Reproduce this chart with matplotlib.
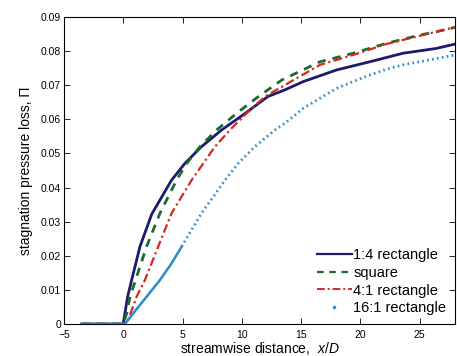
import matplotlib.pyplot as plt
from matplotlib.lines import Line2D
import numpy as np

plt.rcParams['font.family'] = ['Liberation Sans', 'DejaVu Sans']
plt.rcParams['mathtext.fontset'] = 'custom'
plt.rcParams['mathtext.it'] = 'Liberation Sans:italic'
plt.rcParams['mathtext.rm'] = 'Liberation Sans'

# values
x_r14 = [-3.5, 0, 0.14, 0.37, 0.71, 1.41, 2.4, 4.08, 5.2, 6.6, 8.3, 10.3, 12.2,
         13.6, 15.2, 18.0, 20.8, 23.6, 26.4, 28]
y_r14 = [0, 0, 0.0031, 0.008, 0.0129, 0.0227, 0.0322, 0.0422, 0.0471, 0.052, 0.0569,
         0.0618, 0.0667, 0.0686, 0.0711, 0.0745, 0.0769, 0.0794, 0.0808, 0.0821]

x_sq = [-3.5, 0, 0.29, 0.57, 1.04, 1.97, 3.1, 4.5, 5.35, 6.47, 7.88, 9.57, 11.4,
        13.4, 16.6, 19.4, 22.2, 25, 26.4, 28]
y_sq = [0, 0, 0.0031, 0.008, 0.0129, 0.0227, 0.0325, 0.0422, 0.0471, 0.052, 0.0569,
        0.0618, 0.0667, 0.0716, 0.0769, 0.0794, 0.0823, 0.0847, 0.0857, 0.087]

x_r41 = [-3.5, 0, 0.42, 1.13, 1.83, 2.95, 4.08, 5.77, 6.75, 7.74, 9.0, 10.4, 11.96,
         13.4, 16.6, 19.4, 22.2, 26.4, 28]
y_r41 = [0, 0, 0.0012, 0.008, 0.0129, 0.0227, 0.0325, 0.0422, 0.0471, 0.052, 0.0569,
         0.0618, 0.0667, 0.0696, 0.076, 0.0789, 0.0821, 0.0857, 0.087]

x_r161 = [-3.5, 0, 0.14, 0.84, 1.97, 3.1, 4.08, 4.93, 5.77, 6.6, 7.6, 8.58, 9.7,
          11.1, 12.8, 13.8, 15.2, 16.6, 18, 19.4, 20.8, 22.2, 23.6, 25.0, 28]
y_r161 = [0, 0, 0, 0.0031, 0.008, 0.0129, 0.0178, 0.0227, 0.0276, 0.0325, 0.0373,
          0.0422, 0.0471, 0.052, 0.0569, 0.0593, 0.0633, 0.0662, 0.0691, 0.0711,
          0.073, 0.0747, 0.076, 0.0769, 0.0789]

labels = ["1:4 rectangle", "square", "4:1 rectangle", "16:1 rectangle"]
colors = ["#1c1a6c", "#1b6a2e", "#d5281c", "#2b8ccb"]

fig = plt.figure(figsize=(4.57, 3.56), dpi=100)
ax = fig.add_axes([0.140, 0.090, 0.856, 0.862])

ax.plot(x_r14, y_r14, color=colors[0], lw=2.0)
ax.plot(x_sq, y_sq, color=colors[1], lw=2.0, ls=(0, (3, 2.5)))
ax.plot(x_r41, y_r41, color=colors[2], lw=1.6, ls=(0, (4, 1.5, 1, 1.5)))

# 16:1 looks solid up to x~5, dotted after
k = 8
ax.plot(x_r161[:k], y_r161[:k], color=colors[3], lw=1.8)
ax.plot(x_r161[k - 1:], y_r161[k - 1:], color=colors[3], lw=2.0, ls=(0, (0.6, 1.2)))

handles = [Line2D([], [], color=colors[0], lw=1.6),
           Line2D([], [], color=colors[1], lw=1.6, ls=(0, (3, 2.5))),
           Line2D([], [], color=colors[2], lw=1.4, ls=(0, (4, 1.5, 1, 1.5))),
           Line2D([], [], color=colors[3], marker='.', ls='none', markersize=3)]
ax.legend(handles, labels, loc="lower right", frameon=False, fontsize=10.5,
          handlelength=2.4, handletextpad=0.1, labelspacing=0.25,
          borderaxespad=0.2)

ax.set_xlim(-5, 28)
ax.set_ylim(0, 0.09)
ax.set_xticks([-5, 0, 5, 10, 15, 20, 25])
ax.set_yticks(np.arange(0, 0.091, 0.01))
ax.set_yticklabels(["0", "0.01", "0.02", "0.03", "0.04", "0.05", "0.06", "0.07", "0.08", "0.09"])
ax.tick_params(direction="in", top=True, right=True, labelsize=7.5, length=4, width=0.6)
ax.tick_params(axis="y", pad=2)
ax.tick_params(axis="x", pad=4)
for s in ax.spines.values():
    s.set_linewidth(0.8)

ax.set_xlabel("streamwise distance,  $x/D$", fontsize=10, labelpad=0)
ax.set_ylabel("stagnation pressure loss, Π", fontsize=10, labelpad=6)

fig.savefig("out.png", dpi=100)
